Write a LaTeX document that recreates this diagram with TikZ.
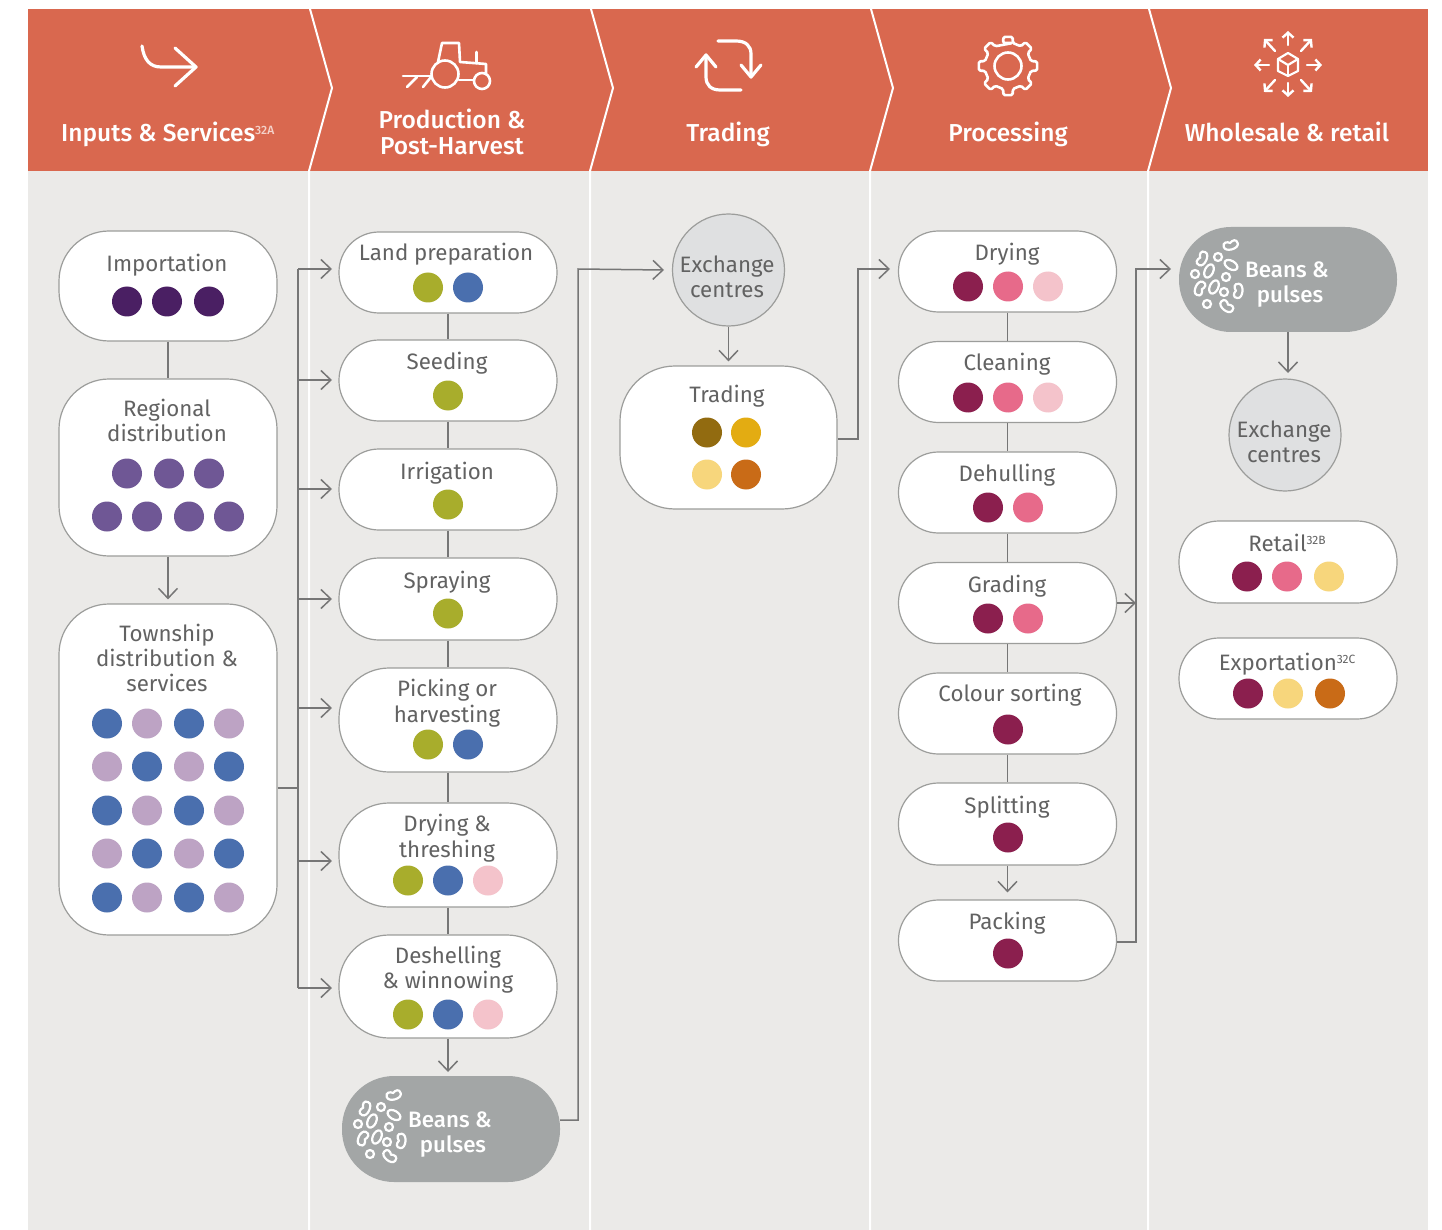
\documentclass[tikz,border=0pt]{standalone}
\usepackage{fontspec}
\setmainfont{Fira Sans}
\newfontfamily\hdfont{Fira Sans Medium}
\usetikzlibrary{arrows.meta,calc}
\definecolor{hdr}{HTML}{D9684F}
\definecolor{bgc}{HTML}{EBEAE8}
\definecolor{edgec}{HTML}{9C9D9B}
\definecolor{linec}{HTML}{767676}
\definecolor{txtc}{HTML}{626262}
\definecolor{graypill}{HTML}{A3A6A6}
\definecolor{circc}{HTML}{DFE0E1}
\definecolor{dkpurple}{HTML}{4A1F63}
\definecolor{mdpurple}{HTML}{6F5795}
\definecolor{blue}{HTML}{4A6FAE}
\definecolor{lilac}{HTML}{BDA3C4}
\definecolor{olive}{HTML}{A8AD2C}
\definecolor{pinkl}{HTML}{F4C3CB}
\definecolor{pinkd}{HTML}{E76A8A}
\definecolor{maroon}{HTML}{8B1F4E}
\definecolor{brownc}{HTML}{926B10}
\definecolor{goldc}{HTML}{E3AC12}
\definecolor{yell}{HTML}{F7D67C}
\definecolor{orng}{HTML}{C96B17}
\newcounter{dotcnt}
\newcommand{\dotat}[3]{\stepcounter{dotcnt}\node[dotn,fill=#3] (dot\thedotcnt) at (#1,#2+0.5) {};}
\newcommand{\supx}[1]{\raisebox{7pt}{\fontsize{12}{12}\selectfont #1}}
\newcommand{\kidney}[3]{\draw[shift={(#1,#2)},rotate=#3,scale=0.9] (-8,-1) .. controls (-8,-6.5) and (-3,-6) .. (0,-3.5) .. controls (3,-6) and (8,-6.5) .. (8,-1) .. controls (8,5.5) and (-8,5.5) .. (-8,-1) -- cycle;}
\newcommand{\beanset}[2]{%
\begin{scope}[shift={(#1,#2)},beanline]
\kidney{394}{1096}{15}
\kidney{366}{1109}{65}
\draw (381,1107) circle (4);
\draw[rotate around={-30:(394,1115)}] (394,1115) ellipse (7 and 4.2);
\draw[rotate around={65:(372,1121)}] (372,1121) ellipse (7 and 4.2);
\draw (358,1124) circle (4);
\draw (389,1127) circle (4);
\kidney{362}{1138}{245}
\draw[rotate around={65:(377,1137)}] (377,1137) ellipse (7 and 4.2);
\draw (387,1142) circle (4);
\kidney{402}{1141}{85}
\draw (370,1154) circle (4);
\kidney{389}{1157}{-40}
\end{scope}}
\tikzset{
 x=1pt,y=-1pt,
 pill/.style={draw=edgec,fill=white,line width=1.2pt,inner sep=0pt,minimum width=218pt},
 graybox/.style={fill=graypill,inner sep=0pt,minimum width=218pt},
 exch/.style={circle,draw=edgec,fill=circc,line width=1.2pt,inner sep=0pt,minimum size=112pt},
 lab/.style={text=txtc,font=\fontsize{22.3}{25}\selectfont,align=center,inner sep=0pt},
 labone/.style={lab,yshift=-2pt},
 wlab/.style={text=white,font=\hdfont\fontsize{22.3}{25}\selectfont,align=center,inner sep=0pt},
 hlab/.style={text=white,font=\hdfont\fontsize{24.5}{25.5}\selectfont,align=center,inner sep=0pt},
 dotn/.style={circle,inner sep=0pt,minimum size=30pt},
 conn/.style={draw=linec,line width=1.5pt},
 arr/.style={conn,-{Straight Barb[length=10pt,width=19pt,line width=1.5pt]}},
 icon/.style={draw=white,line width=3.2pt,line cap=round,line join=round},
 smarr/.style={icon,line width=2.4pt,-{Straight Barb[length=5pt,width=11pt,line width=2.4pt]}},
 beanline/.style={draw=white,line width=2.2pt},
 sep/.style={draw=white,line width=2pt},
}
\begin{document}
\begin{tikzpicture}
\useasboundingbox (0,0) rectangle (1442,1230);
\fill[white] (0,0) rectangle (1442,1230);
\fill[bgc] (28,171) rectangle (1428,1230);
\fill[hdr] (28,9) rectangle (1428,171);
% separators
\foreach \a/\b/\c in {310/332/309,591/613/590,871/893/870,1149/1171/1148}{
 \draw[sep] (\a,9) -- (\b,88) -- (\c,171) -- (\c,1230);
}
% header labels
\node[hlab,anchor=west] (h1) at (61,134) {Inputs \& Services\textcolor{white!70!hdr}{\supx{32A}}};
\node[hlab] (h2) at (452,132) {Production \&\\Post-Harvest};
\node[hlab] (h3) at (728,134) {Trading};
\node[hlab] (h4) at (1008,134) {Processing};
\node[hlab] (h5) at (1287,132) {Wholesale \& retail};
% icon: inputs
\draw[icon] (142,46) .. controls (144,60) and (150,67) .. (161,67) -- (196,67);
\draw[icon] (175,48) -- (196,67) -- (175,86);
% icon: tractor
\draw[icon,line width=2.6pt] (445,74) circle (13.5);
\draw[icon,line width=2.6pt] (482,81) circle (8);
\draw[icon,line width=2.6pt] (438,62) -- (442,43) -- (459,43) -- (460,62) -- (486,64) -- (486,74);
\draw[icon,line width=2.6pt] (476.5,52) -- (476.5,63);
\draw[icon,line width=2.6pt] (459,80) -- (474,80);
\draw[icon,line width=2.6pt] (403,76) -- (432,76);
\draw[icon,line width=2.6pt] (417,77) -- (407,87);
\draw[icon,line width=2.6pt] (431,77) -- (423,87);
% icon: trading
\draw[icon] (718,41) -- (736,41) .. controls (746,41) and (751,46) .. (751,54) -- (751,77);
\draw[icon] (741,65) -- (751,77) -- (761,65);
\draw[icon] (741,90) -- (720,90) .. controls (711,90) and (706,85) .. (706,77) -- (706,55);
\draw[icon] (696,67) -- (706,55) -- (716,67);
% icon: gear
\begin{scope}[shift={(1008,66)},y=1pt]
\draw[icon,line width=2.6pt,rounded corners=1.5pt] (78:23.5)
 \foreach \a in {90,45,0,-45,-90,-135,-180,-225}{ -- (\a+12:23.5) -- (\a+9:29.5) -- (\a-9:29.5) -- (\a-12:23.5)} -- cycle;
\draw[icon,line width=2.6pt] (0,0) circle (13.5);
\end{scope}
% icon: wholesale
\draw[icon,line width=2.2pt] (1288,53) -- (1298,59) -- (1298,71) -- (1288,76) -- (1278,71) -- (1278,59) -- cycle;
\draw[icon,line width=2.2pt] (1278,59) -- (1288,65) -- (1298,59);
\draw[icon,line width=2.2pt] (1288,65) -- (1288,76);
\draw[smarr] (1288,45) -- (1288,31);
\draw[smarr] (1288,83) -- (1288,97);
\draw[smarr] (1269,65) -- (1254,65);
\draw[smarr] (1307,65) -- (1322,65);
\draw[smarr] (1275,51) -- (1264,39);
\draw[smarr] (1301,51) -- (1312,39);
\draw[smarr] (1275,80) -- (1264,92);
\draw[smarr] (1301,80) -- (1312,92);
% column 1
\node[pill,minimum height=110pt,rounded corners=50pt] (imp) at (168,286) {};
\node[pill,minimum height=177pt,rounded corners=50pt] (reg) at (168,467.5) {};
\node[pill,minimum height=331pt,rounded corners=50pt] (town) at (168,769.5) {};
\node[labone] (timp) at (167,263) {Importation};
\node[lab] (treg) at (167,420) {Regional\\distribution};
\node[lab] (ttown) at (167,658) {Township\\distribution \&\\services};
% column 2
\node[pill,minimum height=81pt,rounded corners=40pt] (land) at (448,272.5) {};
\node[pill,minimum height=81pt,rounded corners=40pt] (seed) at (448,380.5) {};
\node[pill,minimum height=81pt,rounded corners=40pt] (irr) at (448,489.5) {};
\node[pill,minimum height=82pt,rounded corners=40pt] (spray) at (448,599) {};
\node[pill,minimum height=104pt,rounded corners=50pt] (pick) at (448,720) {};
\node[pill,minimum height=104pt,rounded corners=50pt] (dry) at (448,855) {};
\node[pill,minimum height=103pt,rounded corners=50pt] (desh) at (448,986.5) {};
\node[graybox,minimum height=106pt,rounded corners=52pt] (beana) at (451,1129) {};
\node[labone] (tland) at (446,252) {Land preparation};
\node[labone] (tseed) at (447,361) {Seeding};
\node[labone] (tirr) at (447,471) {Irrigation};
\node[labone] (tspray) at (447,580) {Spraying};
\node[lab,font=\fontsize{22.3}{26}\selectfont] (tpick) at (447,703) {Picking or\\harvesting};
\node[lab,font=\fontsize{22.3}{26}\selectfont] (tdry) at (447,838) {Drying \&\\threshing};
\node[lab] (tdesh) at (448,970) {Deshelling\\\& winnowing};
\node[wlab] (tbeana) at (450,1135) {Beans \&\\\hspace*{6pt}pulses};
\beanset{0}{0}
% column 3
\node[exch] (exa) at (728.5,270) {};
\node[pill,minimum width=217pt,minimum height=143pt,rounded corners=55pt] (trad) at (728.5,437.5) {};
\node[lab] (texa) at (727,276.5) {Exchange\\centres};
\node[labone] (ttrad) at (727,394) {Trading};
% column 4
\node[pill,minimum height=81pt,rounded corners=40pt] (p1) at (1007.5,271.5) {};
\node[pill,minimum height=81pt,rounded corners=40pt] (p2) at (1007.5,382) {};
\node[pill,minimum height=81pt,rounded corners=40pt] (p3) at (1007.5,492.5) {};
\node[pill,minimum height=81pt,rounded corners=40pt] (p4) at (1007.5,603) {};
\node[pill,minimum height=81pt,rounded corners=40pt] (p5) at (1007.5,713.5) {};
\node[pill,minimum height=82pt,rounded corners=40pt] (p6) at (1007.5,824) {};
\node[pill,minimum height=81pt,rounded corners=40pt] (p7) at (1007.5,940.5) {};
\node[labone] (tp1) at (1007,252) {Drying};
\node[labone] (tp2) at (1007,362) {Cleaning};
\node[labone] (tp3) at (1007,473) {Dehulling};
\node[labone] (tp4) at (1007,584) {Grading};
\node[labone] (tp5) at (1010,693) {Colour sorting};
\node[labone] (tp6) at (1007,805) {Splitting};
\node[labone] (tp7) at (1007,921) {Packing};
% column 5
\node[graybox,minimum height=105pt,rounded corners=52pt] (beanb) at (1288,279.5) {};
\node[exch] (exb) at (1285,435) {};
\node[pill,minimum height=82pt,rounded corners=40pt] (ret) at (1288,562) {};
\node[pill,minimum height=81pt,rounded corners=40pt] (exp) at (1288,678.5) {};
\node[wlab] (tbeanb) at (1287,285) {Beans \&\\\hspace*{6pt}pulses};
\beanset{837}{-850}
\node[lab] (texb) at (1284,441.5) {Exchange\\centres};
\node[lab] (tret) at (1287,543) {Retail\supx{32B}};
\node[labone] (texp) at (1287,662) {Exportation\supx{32C}};
% connectors
\coordinate (j1) at (298,788);
\coordinate (t1) at (298,269);
\coordinate (t2) at (298,988);
\draw[conn] (imp.south) -- (reg.north);
\draw[arr] (reg.south) -- ($(town.north)+(0,-4)$);
\draw[conn] (j1 -| town.east) -- (j1);
\draw[conn] (t1) -- (t2);
\foreach \yy in {269,380,489,599,708,861,988}{
 \draw[arr] (298,\yy) -- (332,\yy);
}
\draw[conn] (land.south) -- (seed.north);
\draw[conn] (seed.south) -- (irr.north);
\draw[conn] (irr.south) -- (spray.north);
\draw[conn] (spray.south) -- (pick.north);
\draw[conn] (pick.south) -- (dry.north);
\draw[conn] (dry.south) -- (desh.north);
\coordinate (ba) at (448,1072);
\draw[arr] (desh.south) -- (ba);
\coordinate (c1) at (578,1120);
\coordinate (c2) at (578,269);
\coordinate (c3) at (664,270);
\draw[arr] (c1 -| beana.east) -- (c1) -- (c2) -- (c3);
\draw[arr] (exa.south) -- ($(trad.north)+(0,-4)$);
\coordinate (d1) at (858,439);
\coordinate (d2) at (858,269);
\coordinate (d3) at (890,269);
\draw[arr] (d1 -| trad.east) -- (d1) -- (d2) -- (d3);
\draw[conn] (p1.south) -- (p2.north);
\draw[conn] (p2.south) -- (p3.north);
\draw[conn] (p3.south) -- (p4.north);
\draw[conn] (p4.south) -- (p5.north);
\draw[conn] (p5.south) -- (p6.north);
\draw[arr] (p6.south) -- ($(p7.north)+(0,-7)$);
\coordinate (e1) at (1136,603);
\draw[arr] (p4.east) -- (e1);
\coordinate (f1) at (1136,942);
\coordinate (f2) at (1136,269);
\coordinate (f3) at (1171,269);
\draw[arr] (f1 -| p7.east) -- (f1) -- (f2) -- (f3);
\coordinate (g1) at (1288,373);
\draw[arr] (beanb.south) -- (g1);
% dots
\foreach \x in {127,167,209}{\dotat{\x}{301}{dkpurple}}
\foreach \x in {127,169,209}{\dotat{\x}{473}{mdpurple}}
\foreach \x in {107,147,189,229}{\dotat{\x}{516}{mdpurple}}
\foreach \yy in {723,810,897}{
 \dotat{107}{\yy}{blue}\dotat{147}{\yy}{lilac}\dotat{189}{\yy}{blue}\dotat{229}{\yy}{lilac}}
\foreach \yy in {766,853}{
 \dotat{107}{\yy}{lilac}\dotat{147}{\yy}{blue}\dotat{189}{\yy}{lilac}\dotat{229}{\yy}{blue}}
\dotat{428}{287}{olive}\dotat{468}{287}{blue}
\dotat{448}{395}{olive}
\dotat{448}{504}{olive}
\dotat{448}{613}{olive}
\dotat{428}{744}{olive}\dotat{468}{744}{blue}
\dotat{408}{880}{olive}\dotat{448}{880}{blue}\dotat{488}{880}{pinkl}
\dotat{408}{1014}{olive}\dotat{448}{1014}{blue}\dotat{488}{1014}{pinkl}
\dotat{707}{432}{brownc}\dotat{746}{432}{goldc}
\dotat{707}{474}{yell}\dotat{746}{474}{orng}
\dotat{968}{286}{maroon}\dotat{1008}{286}{pinkd}\dotat{1048}{286}{pinkl}
\dotat{968}{397}{maroon}\dotat{1008}{397}{pinkd}\dotat{1048}{397}{pinkl}
\dotat{988}{507}{maroon}\dotat{1028}{507}{pinkd}
\dotat{988}{618}{maroon}\dotat{1028}{618}{pinkd}
\dotat{1008}{729}{maroon}
\dotat{1008}{837}{maroon}
\dotat{1008}{953}{maroon}
\dotat{1247}{576}{maroon}\dotat{1287}{576}{pinkd}\dotat{1329}{576}{yell}
\dotat{1248}{693}{maroon}\dotat{1288}{693}{yell}\dotat{1330}{693}{orng}
\end{tikzpicture}
\end{document}
